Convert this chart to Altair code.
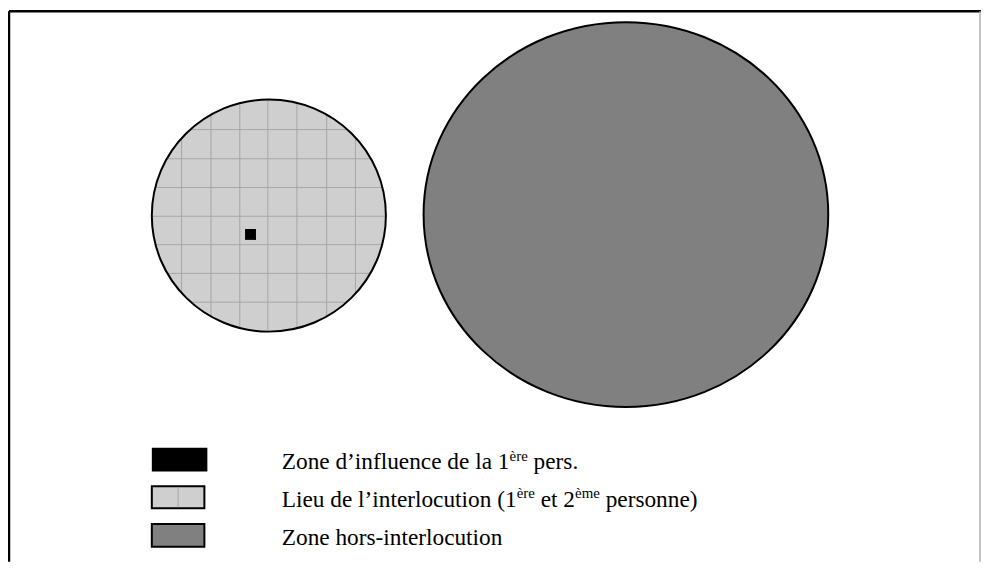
import altair as alt
import pandas as pd

# ---------------- canvas (page pixels; the chart starts at the 8px page margin)
W, H = 981, 556
OFF = 8

# ---------------- circles (page pixels)
circle_names = ["Lieu de l'interlocution", "Zone hors-interlocution"]
circle_cx = [271, 631]
circle_cy = [215, 214]
circle_w = [236, 408]
circle_h = [234, 388]

# grid lines of the light circle
grid_x = [183, 212.7, 241.7, 270, 299.3, 329.3, 358.3]
grid_y = [128.3, 157.7, 186.7, 215.7, 244.3, 273.3, 302.3]

# zone d'influence de la 1re personne (small black square)
influence_x = [252.5]
influence_y = [234]
influence_side = [11]

# ---------------- legend
legend_segments = [
    ["Zone d\u2019influence de la 1", "\u00e8re", " pers."],
    ["Lieu de l\u2019interlocution (1", "\u00e8re", " et 2", "\u00e8me", " personne)"],
    ["Zone hors-interlocution"],
]
legend_is_sup = [[0, 1, 0], [0, 1, 0, 1, 0], [0]]
legend_baseline = [471, 509, 547]
legend_text_x = [284, 284, 284]
swatch_x = [153, 153, 153]
swatch_x2 = [209, 206, 206]
swatch_top = [449, 488, 526]
swatch_bottom = [473, 510, 549]

# ---------------- frame lines
frame_x = [OFF + 1, OFF + 1, OFF + W - 1]
frame_x2 = [OFF + W, OFF + 1, OFF + W - 1]
frame_y = [OFF + 1, OFF + 1, OFF + 1]
frame_y2 = [OFF + 1, OFF + H, OFF + H]

COL_LIGHT = "#cfcfcf"
COL_DARK = "#808080"
COL_GRID = "#a6a6a6"
FONT = "Liberation Serif"
FS = 23.5
FS_SUP = 15

# Times / Liberation Serif advance widths (per 1000 em) to lay out the segments
ADV = {' ': 250, 'Z': 611, 'o': 500, 'n': 500, 'e': 444, 'd': 500, '\u2019': 333,
       'i': 278, 'f': 333, 'l': 278, 'u': 500, 'c': 444, 'a': 444, '1': 500,
       '\u00e8': 444, 'r': 333, 'p': 500, 's': 389, '.': 250, 'L': 611, 't': 278,
       '(': 333, ')': 333, '2': 500, 'm': 778, 'h': 500, '-': 333}


def text_width(s, size):
    return sum(ADV.get(ch, 500) for ch in s) / 1000.0 * size


# ---------------- build tables
def ellipse_path(ratio):
    k = 0.5523
    r = ratio
    return (f"M-1,0 C-1,{-r*k:.4f} {-k},{-r:.4f} 0,{-r:.4f} "
            f"C{k},{-r:.4f} 1,{-r*k:.4f} 1,0 "
            f"C1,{r*k:.4f} {k},{r:.4f} 0,{r:.4f} "
            f"C{-k},{r:.4f} -1,{r*k:.4f} -1,0 Z")


circles = pd.DataFrame({
    "name": circle_names,
    "x": [v - OFF for v in circle_cx],
    "y": [v - OFF for v in circle_cy],
    "size": [w * w for w in circle_w],
})

# grid chords clipped to the light circle
cx, cy = circle_cx[0], circle_cy[0]
rx, ry = circle_w[0] / 2, circle_h[0] / 2
rows = []
for gx in grid_x:
    t = 1 - ((gx - cx) / rx) ** 2
    if t > 0:
        half = ry * t ** 0.5
        rows.append({"x": gx - OFF, "x2": gx - OFF, "y": cy - half - OFF, "y2": cy + half - OFF})
for gy in grid_y:
    t = 1 - ((gy - cy) / ry) ** 2
    if t > 0:
        half = rx * t ** 0.5
        rows.append({"x": cx - half - OFF, "x2": cx + half - OFF, "y": gy - OFF, "y2": gy - OFF})
grid = pd.DataFrame(rows)

square = pd.DataFrame({
    "x": [v - OFF for v in influence_x],
    "y": [v - OFF for v in influence_y],
    "size": [s * s for s in influence_side],
})

# SVG collapses leading spaces, so each segment is placed after its own
# leading blank instead of drawing it
seg_rows = []
for i, segs in enumerate(legend_segments):
    xpos = legend_text_x[i]
    for s, sup in zip(segs, legend_is_sup[i]):
        size = FS_SUP if sup else FS
        stripped = s.lstrip(" ")
        lead = text_width(s[: len(s) - len(stripped)], size)
        seg_rows.append({"text": stripped, "x": xpos + lead - OFF,
                         "y": legend_baseline[i] - OFF - (9 if sup else 0),
                         "sup": sup})
        xpos += text_width(s, size)
segs_df = pd.DataFrame(seg_rows)

swatches = pd.DataFrame({
    "row": [0, 1, 2],
    "x": [v - OFF for v in swatch_x],
    "x2": [v - OFF for v in swatch_x2],
    "y": [v - OFF for v in swatch_top],
    "y2": [v - OFF for v in swatch_bottom],
})
swatch_mid = pd.DataFrame({
    "x": [(swatch_x[1] + swatch_x2[1]) / 2 - OFF],
    "y": [swatch_top[1] - OFF + 1],
    "y2": [swatch_bottom[1] - OFF - 1],
})

frame = pd.DataFrame({
    "x": [v - OFF for v in frame_x],
    "x2": [v - OFF for v in frame_x2],
    "y": [v - OFF for v in frame_y],
    "y2": [v - OFF for v in frame_y2],
    "kind": ["top", "left", "right"],
})

# ---------------- scales
XS = alt.Scale(domain=[0, W], range=[0, W], nice=False, zero=False)
YS = alt.Scale(domain=[0, H], range=[0, H], nice=False, zero=False)


def X(f="x"):
    return alt.X(f"{f}:Q", scale=XS, axis=None)


def Y(f="y"):
    return alt.Y(f"{f}:Q", scale=YS, axis=None)


base_c = alt.Chart(circles)

light_fill = base_c.transform_filter(alt.datum.name == circle_names[0]).mark_point(
    shape=ellipse_path(circle_h[0] / circle_w[0]), filled=True, fill=COL_LIGHT,
    strokeWidth=0, opacity=1
).encode(x=X(), y=Y(), size=alt.Size("size:Q", scale=None))

grid_layer = alt.Chart(grid).mark_rule(color=COL_GRID, strokeWidth=1).encode(
    x=X(), x2="x2:Q", y=Y(), y2="y2:Q")

light_stroke = base_c.transform_filter(alt.datum.name == circle_names[0]).mark_point(
    shape=ellipse_path(circle_h[0] / circle_w[0]), filled=False, stroke="black",
    strokeWidth=2, opacity=1
).encode(x=X(), y=Y(), size=alt.Size("size:Q", scale=None))

dark_circle = base_c.transform_filter(alt.datum.name == circle_names[1]).mark_point(
    shape=ellipse_path(circle_h[1] / circle_w[1]), filled=True, fill=COL_DARK,
    stroke="black", strokeWidth=2, opacity=1
).encode(x=X(), y=Y(), size=alt.Size("size:Q", scale=None))

square_layer = alt.Chart(square).mark_point(
    shape="square", filled=True, fill="black", strokeWidth=0, opacity=1
).encode(x=X(), y=Y(), size=alt.Size("size:Q", scale=None))

sw = alt.Chart(swatches)
sw_black = sw.transform_filter(alt.datum.row == 0).mark_rect(color="black").encode(
    x=X(), x2="x2:Q", y=Y(), y2="y2:Q")
sw_light = sw.transform_filter(alt.datum.row == 1).mark_rect(
    fill=COL_LIGHT, stroke="black", strokeWidth=2).encode(x=X(), x2="x2:Q", y=Y(), y2="y2:Q")
sw_light_mid = alt.Chart(swatch_mid).mark_rule(color=COL_GRID, strokeWidth=1).encode(
    x=X(), y=Y(), y2="y2:Q")
sw_dark = sw.transform_filter(alt.datum.row == 2).mark_rect(
    fill=COL_DARK, stroke="black", strokeWidth=2).encode(x=X(), x2="x2:Q", y=Y(), y2="y2:Q")

txt = alt.Chart(segs_df)
txt_main = txt.transform_filter(alt.datum.sup == 0).mark_text(
    align="left", baseline="alphabetic", font=FONT, fontSize=FS, color="black"
).encode(x=X(), y=Y(), text="text:N")
txt_sup = txt.transform_filter(alt.datum.sup == 1).mark_text(
    align="left", baseline="alphabetic", font=FONT, fontSize=FS_SUP, color="black"
).encode(x=X(), y=Y(), text="text:N")

fr = alt.Chart(frame)
frame_black = fr.transform_filter(alt.datum.kind != "right").mark_rule(
    color="black", strokeWidth=2.5).encode(x=X(), x2="x2:Q", y=Y(), y2="y2:Q")
frame_right = fr.transform_filter(alt.datum.kind == "right").mark_rule(
    color="#b0b0b0", strokeWidth=1.5).encode(x=X(), y=Y(), y2="y2:Q")

chart = alt.layer(
    light_fill, grid_layer, light_stroke, dark_circle, square_layer,
    sw_black, sw_light, sw_light_mid, sw_dark, txt_main, txt_sup,
    frame_black, frame_right,
).properties(
    width=W, height=H, padding=0,
    autosize=alt.AutoSizeParams(type="none"),
    background="white",
).configure_view(stroke=None)

chart.save("out.html", embed_options={"renderer": "svg", "actions": False})
